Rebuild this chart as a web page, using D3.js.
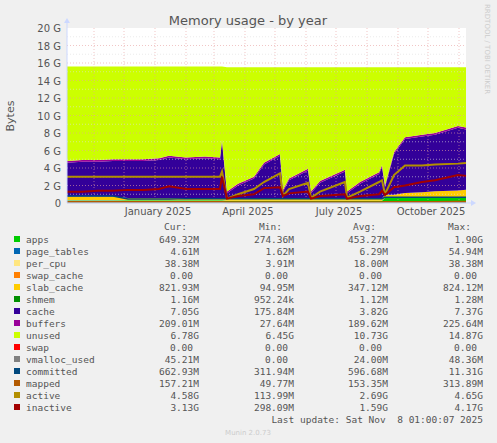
<!DOCTYPE html>
<html><head><meta charset="utf-8">
<script src="https://cdn.jsdelivr.net/npm/d3@7"></script>
<style>body{margin:0;background:#f0f0f0}svg{display:block}</style>
</head><body>
<svg id="chart" width="497" height="443"></svg>
<script>
// sample dates (roughly weekly, plus the points where memory drops)
const dates = ["2024-10-05","2024-10-20","2024-11-05","2024-11-20","2024-12-05","2024-12-20","2025-01-05","2025-01-15","2025-02-01","2025-02-20","2025-03-07","2025-03-09","2025-03-14","2025-03-25","2025-04-10","2025-04-20","2025-05-06","2025-05-09","2025-05-15","2025-06-03","2025-06-06","2025-06-15","2025-07-10","2025-07-12","2025-07-25","2025-08-13","2025-08-16","2025-08-19","2025-08-28","2025-09-08","2025-09-25","2025-10-08","2025-10-31","2025-11-08"];
// values in G
const apps    = [.3,.3,.3,.3,.31,.31,.31,.31,.31,.31,.31,.31,.25,.25,.25,.25,.25,.25,.25,.25,.25,.25,.25,.25,.25,.25,.25,.6,.6,.6,.6,.6,.6,.65];
const pageTables = [.01,.01,.01,.01,.01,.01,.01,.01,.01,.01,.01,.01,.01,.01,.01,.01,.01,.01,.01,.01,.01,.01,.01,.01,.01,.01,.01,.01,.01,.01,.01,.01,.01,.005];
const perCpu  = [.02,.02,.02,.02,.01,.01,.01,.01,.01,.01,.01,.01,.01,.01,.01,.01,.01,.01,.01,.01,.01,.01,.01,.01,.01,.01,.01,.02,.02,.02,.02,.02,.02,.038];
const slab    = [.4,.4,.4,.4,.25,.25,.25,.25,.25,.25,.25,.25,.25,.25,.25,.25,.25,.25,.25,.25,.25,.25,.25,.25,.25,.25,.25,.3,.3,.5,.6,.7,.8,.82];
const cache   = [3.87,3.97,3.97,4.07,4.22,4.22,4.32,4.62,4.42,4.52,4.42,6.42,.58,1.48,2.28,3.88,4.88,.78,2.08,3.18,.58,1.78,3.08,.58,1.68,2.78,3.58,.87,4.67,6.17,6.37,6.47,7.17,6.9];
const buffers = [.2,.2,.2,.2,.2,.2,.2,.2,.2,.2,.2,.2,.2,.2,.2,.2,.2,.2,.2,.2,.2,.2,.2,.2,.2,.2,.2,.2,.2,.2,.2,.2,.2,.21];
const unused  = [10.8,10.7,10.7,10.6,10.6,10.6,10.5,10.2,10.4,10.3,10.4,8.4,14.2,13.3,12.5,10.9,9.9,14.0,12.7,11.6,14.2,13.0,11.7,14.2,13.1,12.0,11.2,13.5,9.7,8.0,7.7,7.5,6.7,6.9];
const vmalloc = [.04,.04,.04,.04,.04,.04,.04,.04,.04,.04,.04,.04,.03,.03,.03,.03,.03,.03,.03,.03,.03,.03,.03,.03,.03,.03,.03,.04,.04,.045,.045,.045,.045,.045];
const committed = [.8,.8,.8,.8,.45,.45,.45,.45,.5,.5,.5,.5,.5,.5,.5,.5,.5,.5,.5,.5,.5,.5,.5,.5,.5,.5,.5,.65,.65,.65,.65,.66,.66,.66];
const mapped  = [.15,.15,.15,.15,.15,.15,.15,.15,.15,.15,.15,.15,.12,.12,.12,.12,.12,.12,.12,.12,.12,.12,.12,.12,.12,.12,.12,.15,.15,.15,.15,.15,.16,.16];
const active  = [3.0,3.0,3.0,3.0,3.0,3.0,3.0,3.0,3.0,3.0,3.0,3.6,.5,1.0,1.6,2.4,3.4,.8,1.6,2.3,.6,1.3,2.4,.6,1.3,2.4,2.6,1.0,3.2,4.3,4.3,4.4,4.5,4.58];
const inactive = [1.3,1.3,1.4,1.4,1.5,1.5,1.6,1.9,1.6,1.6,1.6,3.0,.5,.8,1.0,1.7,1.8,.8,1.1,1.3,.5,.8,1.0,.5,.8,1.0,1.4,.9,1.8,2.0,2.4,2.6,3.2,3.1];

const yTicks = [0,2,4,6,8,10,12,14,16,18,20];
const legendRows = [
  ["apps","#00cc00","649.32M","274.36M","453.27M","1.90G"],
  ["page_tables","#0066b3","4.61M","1.62M","6.29M","54.94M"],
  ["per_cpu","#ffe680","38.38M","3.91M","18.00M","38.38M"],
  ["swap_cache","#ff8000","0.00","0.00","0.00","0.00"],
  ["slab_cache","#ffcc00","821.93M","94.95M","347.12M","824.12M"],
  ["shmem","#008f00","1.16M","952.24k","1.12M","1.28M"],
  ["cache","#330099","7.05G","175.84M","3.82G","7.37G"],
  ["buffers","#990099","209.01M","27.64M","189.62M","225.64M"],
  ["unused","#ccff00","6.78G","6.45G","10.73G","14.87G"],
  ["swap","#ff0000","0.00","0.00","0.00","0.00"],
  ["vmalloc_used","#808080","45.21M","0.00","24.00M","48.36M"],
  ["committed","#00487d","662.93M","311.94M","596.68M","11.31G"],
  ["mapped","#b35a00","157.21M","49.77M","153.35M","313.89M"],
  ["active","#b38f00","4.58G","113.99M","2.69G","4.65G"],
  ["inactive","#a30000","3.13G","298.09M","1.59G","4.17G"]
];

const svg = d3.select('#chart');
const L = 67, R = 466, T = 28, B = 203;
const parse = d3.timeParse('%Y-%m-%d');
const x = d3.scaleTime().domain([parse('2024-10-05'), parse('2025-11-08')]).range([L, R]);
const y = d3.scaleLinear().domain([0, 20]).range([B, T]);

svg.append('rect').attr('x', L).attr('y', T).attr('width', R - L).attr('height', B - T).attr('fill', '#fff');

const rows = dates.map((d, i) => ({
  date: parse(d), apps: apps[i], page_tables: pageTables[i], per_cpu: perCpu[i], swap_cache: 0,
  slab_cache: slab[i], shmem: 0.001, cache: cache[i], buffers: buffers[i], unused: unused[i], swap: 0
}));
const keys = ["apps","page_tables","per_cpu","swap_cache","slab_cache","shmem","cache","buffers","unused","swap"];
const colors = Object.fromEntries(legendRows.map(r => [r[0], r[1]]));
const stack = d3.stack().keys(keys)(rows);
const area = d3.area().x(d => x(d.data.date)).y0(d => y(d[0])).y1(d => y(d[1]));
svg.append('g').selectAll('path').data(stack).enter().append('path')
  .attr('d', area).attr('fill', s => colors[s.key]);

// grid
const grid = svg.append('g');
d3.range(1, 20).forEach(v => {
  grid.append('line').attr('x1', L).attr('x2', R).attr('y1', y(v)).attr('y2', y(v))
    .attr('stroke', v % 2 ? '#ddd' : '#e8a0a0').attr('stroke-width', 0.6).attr('stroke-dasharray', '1,2');
});
x.ticks(d3.timeMonth.every(1)).forEach(t => {
  grid.append('line').attr('x1', x(t)).attr('x2', x(t)).attr('y1', T).attr('y2', B)
    .attr('stroke', '#e8a0a0').attr('stroke-width', 0.6).attr('stroke-dasharray', '1,2');
});

// lines
const lineSeries = [[vmalloc,"vmalloc_used",1],[committed,"committed",1.5],[mapped,"mapped",1.5],[active,"active",2],[inactive,"inactive",2]];
lineSeries.forEach(([vals, name, w]) => {
  svg.append('path').datum(vals)
    .attr('d', d3.line().x((d, i) => x(parse(dates[i]))).y(d => y(d)))
    .attr('fill', 'none').attr('stroke', colors[name]).attr('stroke-width', w);
});

// axes
const txt = {fill: '#555', 'font-family': 'DejaVu Sans', 'font-size': 10};
svg.append('line').attr('x1', L).attr('x2', R + 8).attr('y1', B).attr('y2', B).attr('stroke', '#ccd8ff');
svg.append('line').attr('x1', L).attr('x2', L).attr('y1', B).attr('y2', T - 8).attr('stroke', '#ccd8ff');
svg.append('path').attr('d', `M${R+10},${B} l-5,-3 v6 z`).attr('fill', '#ccd8ff');
svg.append('path').attr('d', `M${L},${T-10} l-3,5 h6 z`).attr('fill', '#ccd8ff');
yTicks.forEach(v => {
  svg.append('text').attr('x', L - 6).attr('y', y(v) + 4).attr('text-anchor', 'end')
    .attr('fill', txt.fill).attr('font-family', txt['font-family']).attr('font-size', 10)
    .text(v === 0 ? '0' : v + ' G');
});
x.ticks(d3.timeMonth.every(3)).forEach(t => {
  svg.append('text').attr('x', x(t) + 3).attr('y', B + 12).attr('text-anchor', 'middle')
    .attr('fill', txt.fill).attr('font-family', txt['font-family']).attr('font-size', 10)
    .text(d3.timeFormat('%B %Y')(t));
});
svg.append('text').attr('x', 248).attr('y', 25).attr('text-anchor', 'middle')
  .attr('fill', '#555').attr('font-family', 'DejaVu Sans').attr('font-size', 13).text('Memory usage - by year');
svg.append('text').attr('transform', 'translate(14,116) rotate(-90)').attr('text-anchor', 'middle')
  .attr('fill', '#555').attr('font-family', 'DejaVu Sans').attr('font-size', 11).text('Bytes');
svg.append('text').attr('transform', 'translate(485,4) rotate(90)')
  .attr('fill', '#ccc').attr('font-family', 'DejaVu Sans').attr('font-size', 7).text('RRDTOOL / TOBI OETIKER');

// legend
const mono = 'DejaVu Sans Mono';
const colRight = [199, 294, 388, 483];
["Cur:", "Min:", "Avg:", "Max:"].forEach((h, i) => {
  svg.append('text').attr('x', colRight[i] - 12).attr('y', 230).attr('text-anchor', 'end')
    .attr('fill', '#555').attr('font-family', mono).attr('font-size', 9.5).text(h);
});
legendRows.forEach((r, i) => {
  const yy = 243 + i * 12;
  svg.append('rect').attr('x', 14).attr('y', yy - 7).attr('width', 6).attr('height', 6).attr('fill', r[1]);
  svg.append('text').attr('x', 26).attr('y', yy).attr('fill', '#555').attr('font-family', mono).attr('font-size', 9.5).text(r[0]);
  r.slice(2).forEach((v, j) => {
    const pad = /[0-9]$/.test(v) ? 6 : 0;
    svg.append('text').attr('x', colRight[j] - pad).attr('y', yy).attr('text-anchor', 'end')
      .attr('fill', '#555').attr('font-family', mono).attr('font-size', 9.5).text(v);
  });
});
svg.append('text').attr('x', 483).attr('y', 423).attr('text-anchor', 'end').attr('fill', '#555')
  .attr('font-family', mono).attr('font-size', 9.5).attr('xml:space', 'preserve').text('Last update: Sat Nov  8 01:00:07 2025');
svg.append('text').attr('x', 248).attr('y', 435).attr('text-anchor', 'middle').attr('fill', '#ccc')
  .attr('font-family', 'DejaVu Sans').attr('font-size', 7).text('Munin 2.0.73');
</script>
</body></html>
